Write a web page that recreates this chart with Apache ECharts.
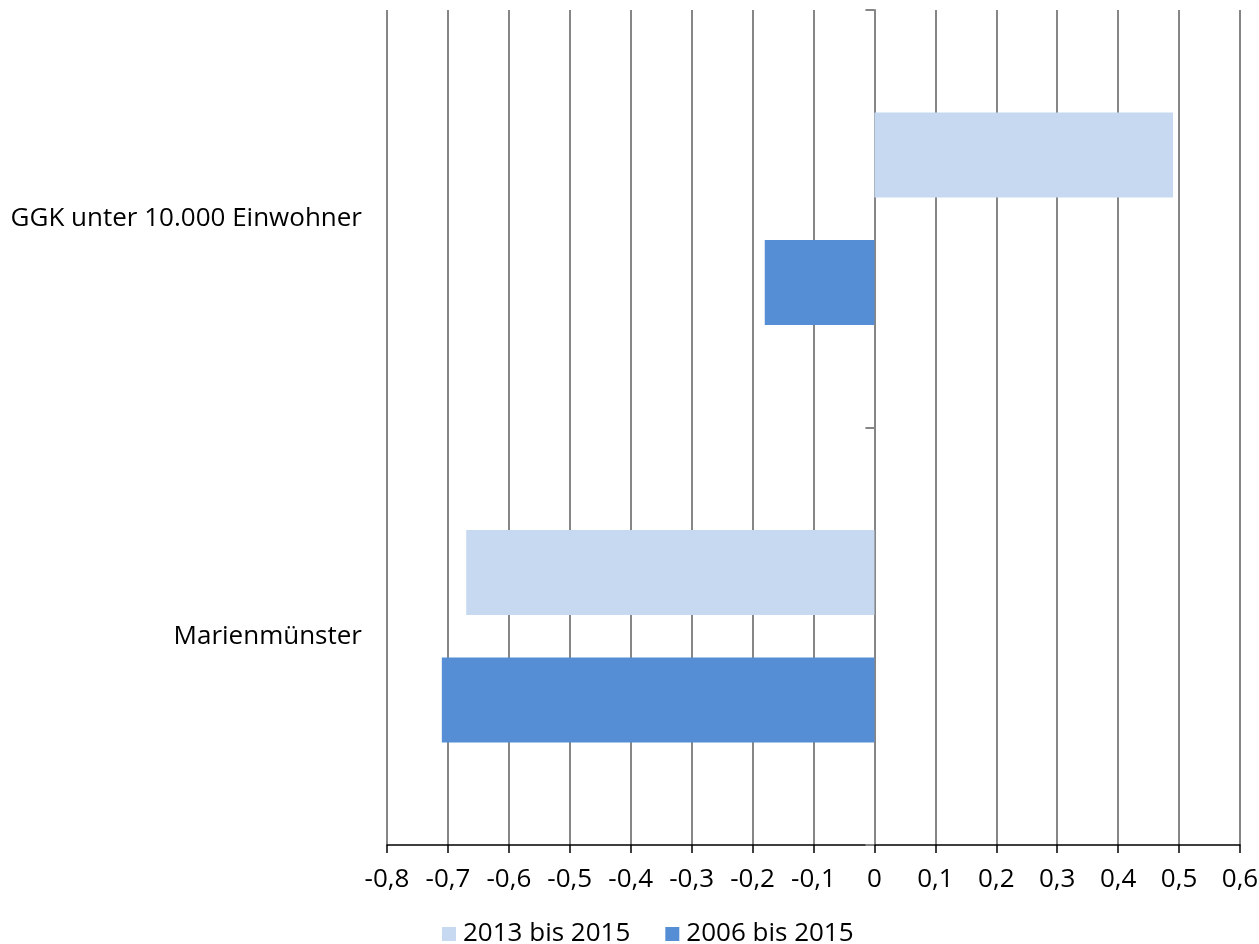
<!DOCTYPE html>
<html><head><meta charset="utf-8">
<script src="https://cdn.jsdelivr.net/npm/echarts@6/dist/echarts.min.js"></script>
<style>html,body{margin:0;padding:0;background:#fff}#c{width:1259px;height:944px}</style>
</head><body><div id="c"></div>
<script>
const categories = ["Marienmünster", "GGK unter 10.000 Einwohner"];
const seriesNames = ["2013 bis 2015", "2006 bis 2015"];
const values2013 = [-0.67, 0.49];
const values2006 = [-0.71, -0.18];
const FONT = "Open Sans";
const chart = echarts.init(document.getElementById('c'));
chart.setOption({
  animation: false,
  textStyle: { fontFamily: FONT },
  grid: { left: 387, right: 19, top: 10, bottom: 99, containLabel: false, outerBoundsMode: 'none' },
  legend: {
    top: 916, left: 437, itemWidth: 14, itemHeight: 14, itemGap: 35,
    icon: 'rect',
    textStyle: { fontSize: 26, color: '#000', fontFamily: FONT, padding: [0, 0, 0, 2] },
    data: seriesNames
  },
  xAxis: {
    type: 'value', min: -0.8, max: 0.6, interval: 0.1,
    axisLine: { show: true, onZero: false, lineStyle: { color: '#000', width: 1.5 } },
    axisTick: { show: true, length: 8, lineStyle: { color: '#000', width: 1.5 } },
    axisLabel: { fontSize: 26, color: '#000', margin: 22,
      formatter: v => (Math.round(v * 10) / 10).toString().replace('.', ',') },
    splitLine: { show: true, lineStyle: { color: '#868686', width: 2 } }
  },
  yAxis: {
    type: 'category', data: categories,
    axisLine: { show: true, onZero: true, lineStyle: { color: '#868686', width: 2 } },
    axisTick: { show: true, length: 9, lineStyle: { color: '#868686', width: 2 } },
    axisLabel: { fontSize: 26, color: '#000', margin: 25 },
    splitLine: { show: false }
  },
  series: [
    { name: seriesNames[0], type: 'bar', data: values2013, barWidth: 85, barGap: '50%',
      itemStyle: { color: '#C6D9F1' } },
    { name: seriesNames[1], type: 'bar', data: values2006, barWidth: 85, barGap: '50%',
      itemStyle: { color: '#558ED5' } }
  ]
});
</script></body></html>
